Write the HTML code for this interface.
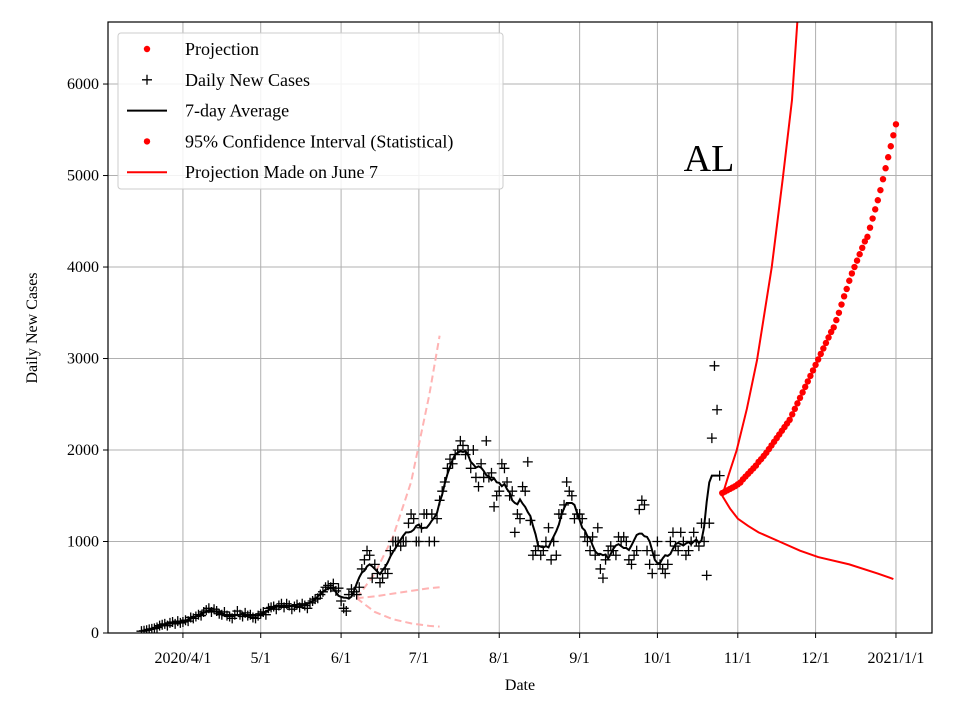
<!DOCTYPE html>
<html><head><meta charset="utf-8"><style>
body{margin:0;background:#fff}
svg{display:block;font-family:"Liberation Serif",serif}
</style></head><body>
<svg id="chart" width="960" height="720" viewBox="0 0 960 720"></svg>
<script>
const yTicks=[0,1000,2000,3000,4000,5000,6000];
const xTickDays=[0,30,61,91,122,153,183,214,244,275];
const xTickLabels=["2020/4/1","5/1","6/1","7/1","8/1","9/1","10/1","11/1","12/1","2021/1/1"];
const dailyStartDay=-16;
const dailyCases=[20,25,30,40,45,50,60,80,90,100,80,110,120,100,130,110,
120,140,130,170,160,180,200,190,230,250,270,230,260,240,210,200,230,190,180,160,200,240,200,180,220,190,200,170,160,190,
210,230,200,270,280,290,260,300,320,280,320,300,260,290,310,280,320,300,270,330,350,370,380,420,450,500,520,500,540,460,490,
350,270,240,420,480,450,420,
500,700,800,900,850,600,750,650,550,600,700,650,900,1000,1000,1000,950,1000,1000,1200,1300,1250,1000,1000,1150,1300,
1300,1000,1300,1000,1250,1450,1550,1650,1800,1900,1850,1950,2000,2100,2050,1950,2000,1800,2000,1700,1600,1850,1700,2100,1700,1750,1380,1500,1550,1850,1800,
1650,1500,1550,1100,1300,1250,1600,1550,1870,1230,850,900,950,850,900,1000,1150,800,1000,850,1300,1300,1400,1650,1550,1500,1250,1300,1300,1250,1050,
1000,900,1050,850,1150,700,600,800,900,950,900,850,1050,1000,1050,1000,800,750,850,900,1350,1450,1400,900,750,650,850,
1000,750,700,650,750,1000,1100,950,900,1100,1000,850,900,1000,1100,1000,950,1200,1000,630,1200,2130,2920,2440,1720];
const projStartDay=208;
const projection=[1530,1545,1560,1575,1590,1605,1625,1645,
1680,1710,1740,1770,1800,1830,1870,1900,1935,1970,
2010,2050,2090,2130,2170,2210,2250,2290,2330,
2390,2450,2510,2570,2630,2690,2750,2810,2870,2930,2990,
3050,3110,3170,3230,3290,3340,
3420,3500,3590,3680,3760,3850,3930,
4000,4070,4140,4210,4280,4330,
4430,4530,4630,4730,4840,
4960,5080,5200,5320,5440,5560];
const ciUpperDays=[208,210.5,213.6,217.5,221.4,227.1,231.4,234.9,237.5];
const ciUpper=[1500,1730,2000,2450,2980,4000,4980,5825,6900];
const ciLowerDays=[208,211,214,218,222,230,238,245,257,268,274];
const ciLower=[1500,1360,1250,1170,1100,1000,900,830,750,650,590];
const junDays=[67,74,81,88,95,99];
const junUpper=[380,650,1050,1650,2600,3250];
const junMid=[380,400,430,460,490,500];
const junLower=[380,230,150,105,78,70];

const L=108,R=932,T=22,B=633;
const xMin=-28.9,xMax=288.9,yMax=6678;
const X=d=>L+(d-xMin)/(xMax-xMin)*(R-L);
const Y=v=>B-v/yMax*(B-T);
const svg=document.getElementById('chart');
const NS='http://www.w3.org/2000/svg';
function mk(tag,attrs,parent){const e=document.createElementNS(NS,tag);for(const k in attrs)e.setAttribute(k,attrs[k]);(parent||svg).appendChild(e);return e;}

const defs=mk('defs',{});
const cp=mk('clipPath',{id:'clip'},defs);mk('rect',{x:L,y:T,width:R-L,height:B-T},cp);

const grid=mk('g',{});


yTicks.forEach(v=>{mk('line',{x1:L,x2:R,y1:Y(v),y2:Y(v),stroke:'#b0b0b0','stroke-width':1},grid);});
xTickDays.forEach(d=>{mk('line',{x1:X(d),x2:X(d),y1:T,y2:B,stroke:'#b0b0b0','stroke-width':1},grid);});

const plot=mk('g',{'clip-path':'url(#clip)'});



function line(days,vals,style,name){
  const p=mk('polyline',Object.assign({points:days.map((d,i)=>X(d)+','+Y(vals[i])).join(' '),fill:'none'},style),plot);
  
  
}
const pink={stroke:'#ffb3b3','stroke-width':2,'stroke-dasharray':'7,4'};
line(junDays,junUpper,pink,'june-projection-upper');
line(junDays,junMid,pink,'june-projection-mid');
line(junDays,junLower,pink,'june-projection-lower');

const dg=mk('g',{stroke:'#000','stroke-width':1.3},plot);


dailyCases.forEach((v,i)=>{const x=X(dailyStartDay+i),y=Y(v);
  const m=mk('path',{d:`M${x-5},${y}H${x+5}M${x},${y-5}V${y+5}`},dg);
  
  });

const avgDays=[],avgVals=[];
for(let i=6;i<dailyCases.length;i++){let s=0;for(let j=i-6;j<=i;j++)s+=dailyCases[j];avgDays.push(dailyStartDay+i-3);avgVals.push(s/7);}
avgDays.push(dailyStartDay+dailyCases.length-1);avgVals.push(dailyCases[dailyCases.length-1]);
line(avgDays,avgVals,{stroke:'#000','stroke-width':2},'seven-day-average');

line(ciUpperDays,ciUpper,{stroke:'#f00','stroke-width':2},'ci-upper');
line(ciLowerDays,ciLower,{stroke:'#f00','stroke-width':2},'ci-lower');

const pg=mk('g',{fill:'#f00'},plot);


projection.forEach((v,i)=>{const c=mk('circle',{cx:X(projStartDay+i),cy:Y(v),r:3.2},pg);
  
  });

const fr=mk('rect',{x:L,y:T,width:R-L,height:B-T,fill:'none',stroke:'#000','stroke-width':1.2});



yTicks.forEach(v=>{mk('line',{x1:L-5,x2:L,y1:Y(v),y2:Y(v),stroke:'#000'});
  const t=mk('text',{x:L-9,y:Y(v)+5,'text-anchor':'end','font-size':16});t.textContent=v;
  
  });
xTickDays.forEach((d,i)=>{mk('line',{x1:X(d),x2:X(d),y1:B,y2:B+5,stroke:'#000'});
  const t=mk('text',{x:X(d),y:B+30,'text-anchor':'middle','font-size':16});t.textContent=xTickLabels[i];
  
  });

const xt=mk('text',{x:520,y:690,'text-anchor':'middle','font-size':16});xt.textContent='Date';


const yt=mk('text',{x:0,y:0,'text-anchor':'middle','font-size':16,transform:'translate(37,328) rotate(-90)'});yt.textContent='Daily New Cases';


const al=mk('text',{x:709,y:171,'text-anchor':'middle','font-size':38});al.textContent='AL';



const lg=mk('g',{});


mk('rect',{x:118,y:33,width:385,height:156,rx:3,fill:'#fff','fill-opacity':0.85,stroke:'#ccc'},lg);
const items=[['dot','#f00','Projection'],['plus','#000','Daily New Cases'],['line','#000','7-day Average'],['dot','#f00','95% Confidence Interval (Statistical)'],['line','#f00','Projection Made on June 7']];
items.forEach((it,i)=>{const y=49+i*30.8;const g=mk('g',{},lg);
  
  
  if(it[0]==='dot')mk('circle',{cx:147,cy:y,r:3.2,fill:it[1]},g);
  else if(it[0]==='plus')mk('path',{d:`M${142},${y}H${152}M147,${y-5}V${y+5}`,stroke:'#000','stroke-width':1.3},g);
  else mk('line',{x1:127,x2:167,y1:y,y2:y,stroke:it[1],'stroke-width':2},g);
  const t=mk('text',{x:185,y:y+6,'font-size':18},g);t.textContent=it[2];});
</script>
</body></html>
